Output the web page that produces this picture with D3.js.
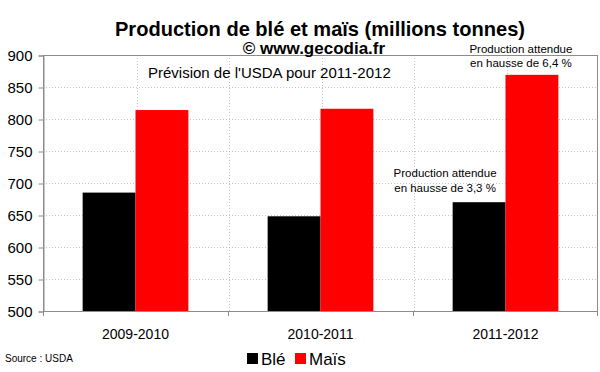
<!DOCTYPE html>
<html>
<head>
<meta charset="utf-8">
<script src="https://cdn.jsdelivr.net/npm/d3@7"></script>
<style>
body{margin:0;background:#fff;}
#canvas{width:600px;height:372px;}
text{font-family:"Liberation Sans",Arial,sans-serif;fill:#000;}
</style>
</head>
<body>
<div id="canvas"></div>
<script>
var categories = ["2009-2010","2010-2011","2011-2012"];
var series = ["Blé","Maïs"];
var colors = ["#000000","#ff0000"];
var ble = [685,648,670];
var mais = [814,816,869];
var yTicks = [500,550,600,650,700,750,800,850,900];
var noteMais = ["Production attendue","en hausse de 6,4 %"];
var noteBle = ["Production attendue","en hausse de 3,3 %"];

var width = 600, height = 372;
var pLeft = 43, pRight = 598, pTop = 55, pBottom = 311;

var svg = d3.select("#canvas").append("svg")
	.attr("width",width)
	.attr("height",height);

var x0 = d3.scaleBand().domain(categories).range([pLeft,pRight]).padding(0);
var x1 = d3.scaleBand().domain(series).range([0,x0.bandwidth()]).paddingInner(0).paddingOuter(0.75);
var y = d3.scaleLinear().domain([500,900]).range([pBottom,pTop]);

// horizontal grid
svg.append("g").selectAll("line").data(yTicks.slice(1,-1)).enter().append("line")
	.attr("x1",pLeft).attr("x2",pRight)
	.attr("y1",function(d){return y(d)+0.5;}).attr("y2",function(d){return y(d)+0.5;})
	.attr("stroke","#c4c4c4").attr("stroke-dasharray","1,2");

// vertical grid, every half category
var half = [];
categories.forEach(function(c,i){
	half.push(x0(c)+x0.bandwidth()/2);
	if(i>0) half.push(x0(c));
});
svg.append("g").selectAll("line").data(half).enter().append("line")
	.attr("x1",function(d){return Math.round(d)+1.5;}).attr("x2",function(d){return Math.round(d)+1.5;})
	.attr("y1",pTop).attr("y2",pBottom)
	.attr("stroke","#c4c4c4").attr("stroke-dasharray","1,2");

// bars
var rows = categories.map(function(c,i){return {cat:c,vals:[ble[i],mais[i]]};});
var groups = svg.append("g").selectAll("g").data(rows).enter().append("g")
	.attr("transform",function(d){return "translate("+x0(d.cat)+",0)";});
groups.selectAll("rect").data(function(d){return d.vals;}).enter().append("rect")
	.attr("x",function(d,i){return x1(series[i]);})
	.attr("width",x1.bandwidth())
	.attr("y",function(d){return y(d);})
	.attr("height",function(d){return pBottom-y(d);})
	.attr("fill",function(d,i){return colors[i];});

// frame
svg.append("rect")
	.attr("x",pLeft+0.5).attr("y",pTop+0.5)
	.attr("width",pRight-pLeft-1).attr("height",pBottom-pTop)
	.attr("fill","none").attr("stroke","#8c8c8c");

// y axis
var yAxis = svg.append("g").attr("transform","translate("+(pLeft+0.5)+",0.5)")
	.call(d3.axisLeft(y).tickValues(yTicks).tickSize(5).tickPadding(6));
yAxis.select(".domain").attr("stroke","#8c8c8c");
yAxis.selectAll(".tick line").attr("stroke","#8c8c8c");
yAxis.selectAll("text").style("font-size","15px").style("font-family","Liberation Sans, Arial, sans-serif").attr("fill","#000");

// x axis ticks at boundaries
var xb = categories.map(function(c){return x0(c);}).concat([pRight-1]);
svg.append("g").selectAll("line").data(xb).enter().append("line")
	.attr("x1",function(d){return Math.round(d)+0.5;}).attr("x2",function(d){return Math.round(d)+0.5;})
	.attr("y1",pBottom).attr("y2",pBottom+5)
	.attr("stroke","#8c8c8c");
svg.append("g").selectAll("text").data(categories).enter().append("text")
	.attr("x",function(d){return x0(d)+x0.bandwidth()/2;})
	.attr("y",339)
	.attr("text-anchor","middle")
	.style("font-size","14px")
	.text(function(d){return d;});

// titles
svg.append("text").attr("x",320).attr("y",36).attr("text-anchor","middle")
	.attr("textLength",410).attr("lengthAdjust","spacingAndGlyphs")
	.style("font-size","21px").style("font-weight","bold")
	.text("Production de blé et maïs (millions tonnes)");
svg.append("text").attr("x",314).attr("y",54).attr("text-anchor","middle")
	.style("font-size","17px").style("font-weight","bold")
	.text("© www.gecodia.fr");

svg.append("text").attr("x",148).attr("y",78)
	.style("font-size","15px")
	.text("Prévision de l'USDA pour 2011-2012");

// annotations
function note(lines,cat,s,v,dx,dy){
	var cx = x0(cat)+x1(s)+x1.bandwidth()/2+dx;
	var t = svg.append("text").attr("text-anchor","middle").style("font-size","11.5px");
	lines.forEach(function(l,i){
		t.append("tspan").attr("x",cx).attr("y",y(v)+dy+i*14.5).text(l);
	});
}
note(noteMais,"2011-2012","Maïs",mais[2],-11,-22);
note(noteBle,"2011-2012","Blé",ble[2],-34,-25);

// legend
var lg = svg.append("g").attr("transform","translate(247,353)");
var lx = [0,48];
series.forEach(function(s,i){
	lg.append("rect").attr("x",lx[i]).attr("y",0).attr("width",11).attr("height",11).attr("fill",colors[i]);
	lg.append("text").attr("x",lx[i]+14).attr("y",11.5).style("font-size","17px").text(s);
});

svg.append("text").attr("x",5).attr("y",362).style("font-size","10px")
	.text("Source : USDA");
</script>
</body>
</html>
